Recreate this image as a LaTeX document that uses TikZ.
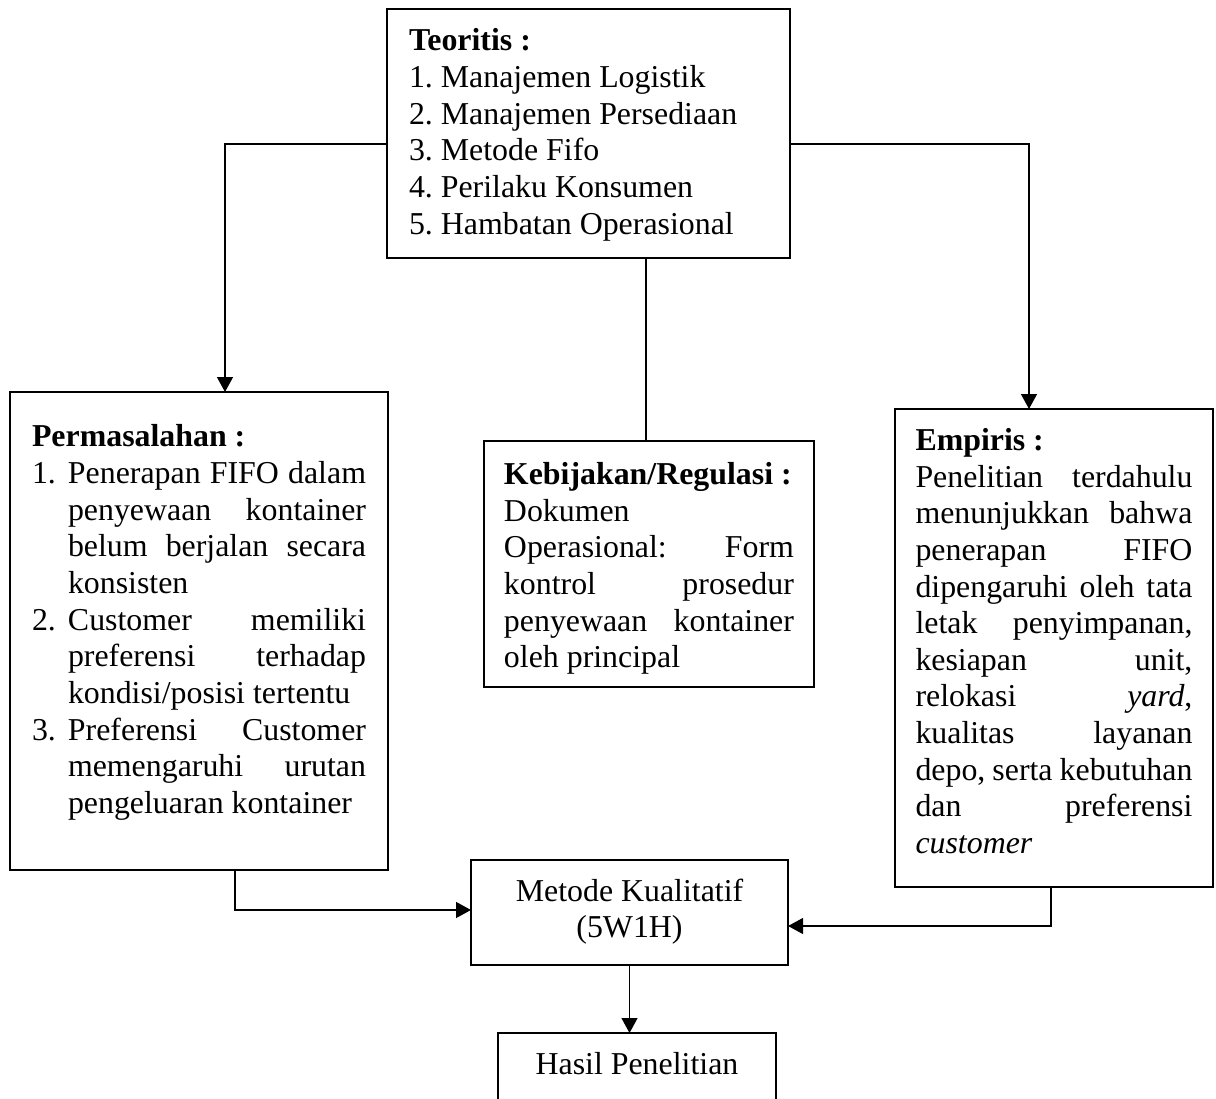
\documentclass[tikz,border=0pt]{standalone}
\usepackage{fontspec}
\setmainfont{Liberation Serif}
\usetikzlibrary{positioning, arrows.meta}

\tolerance=10000
\pretolerance=10000
\hyphenpenalty=10000
\hbadness=10000
\frenchspacing
\newcommand{\butir}[1]{\par\hangindent=13.56pt\hangafter=1\noindent\makebox[13.56pt][l]{#1}}

\begin{document}
\begin{tikzpicture}[
	x=0.3766pt, y=-0.3766pt,
	kotak/.style={rectangle, draw, line width=0.6pt, outer sep=0pt, inner ysep=0pt, anchor=north west,
		font=\fontsize{12}{13.8}\selectfont},
	teori/.style={kotak, align=flush left, inner xsep=8.29pt, text width=135.2pt, text height=15.8pt, text depth=77.98pt},
	masalah/.style={kotak, align=justify, inner xsep=8.29pt, text width=125.8pt, text height=20.7pt, text depth=159.32pt},
	regulasi/.style={kotak, align=justify, inner xsep=7.53pt, text width=109.2pt, text height=16.38pt, text depth=76.26pt},
	empiris/.style={kotak, align=justify, inner xsep=7.72pt, text width=104.3pt, text height=15.6pt, text depth=164.4pt},
	tengah/.style={kotak, align=flush center, inner xsep=0pt},
	garis/.style={line width=0.6pt},
	>={Triangle[length=5.65pt, width=6pt]}
]
\useasboundingbox (0,0) rectangle (1216,1099);
\clip (0,0) rectangle (1216,1099);

\node[teori] (teoritis) at (387,9) {\textbf{Teoritis~:}\\
1. Manajemen Logistik\\
2. Manajemen Persediaan\\
3. Metode Fifo\\
4. Perilaku Konsumen\\
5. Hambatan Operasional};

\node[masalah] (permasalahan) at (10,392) {\textbf{Permasalahan~:}
\butir{1.}Penerapan FIFO dalam\linebreak penyewaan kontainer\linebreak belum berjalan secara\linebreak konsisten
\butir{2.}Customer memiliki\linebreak preferensi terhadap\linebreak kondisi/posisi tertentu
\butir{3.}Preferensi Customer\linebreak memengaruhi urutan\linebreak pengeluaran kontainer\par};

\node[regulasi] (kebijakan) at (484,441) {\textbf{Kebijakan/Regulasi~:}\par
Dokumen\linebreak Operasional: Form\linebreak kontrol prosedur\linebreak penyewaan kontainer\linebreak oleh principal};

\node[empiris] (empiris) at (895,409) {\textbf{Empiris~:}\par
Penelitian terdahulu\linebreak menunjukkan bahwa\linebreak penerapan FIFO\linebreak dipengaruhi oleh tata\linebreak letak penyimpanan,\linebreak kesiapan unit,\linebreak relokasi \textit{yard},\linebreak kualitas layanan\linebreak depo, serta kebutuhan\linebreak dan preferensi\linebreak \textit{customer}};

\node[tengah, text width=119.4pt, text height=15.44pt, text depth=24.11pt] (metode) at (471,860) {Metode Kualitatif\\(5W1H)};
\node[tengah, text width=104.7pt, text height=15.8pt, text depth=21.86pt] (hasil) at (498,1033) {Hasil Penelitian};

% alur
\draw[garis, ->] (teoritis.west |- 0,144) -| (225,0 |- permasalahan.north);
\draw[garis, ->] (teoritis.east |- 0,144) -| (1029,0 |- empiris.north);
\draw[garis] (646,0 |- teoritis.south) -- (646,0 |- kebijakan.north);
\draw[garis, ->] (235,0 |- permasalahan.south) |- (metode.west |- 0,910);
\draw[garis, ->] (1051,0 |- empiris.south) |- (metode.east |- 0,926);
\draw[garis, ->] (metode.south) -- (metode.south |- hasil.north);

\end{tikzpicture}
\end{document}
